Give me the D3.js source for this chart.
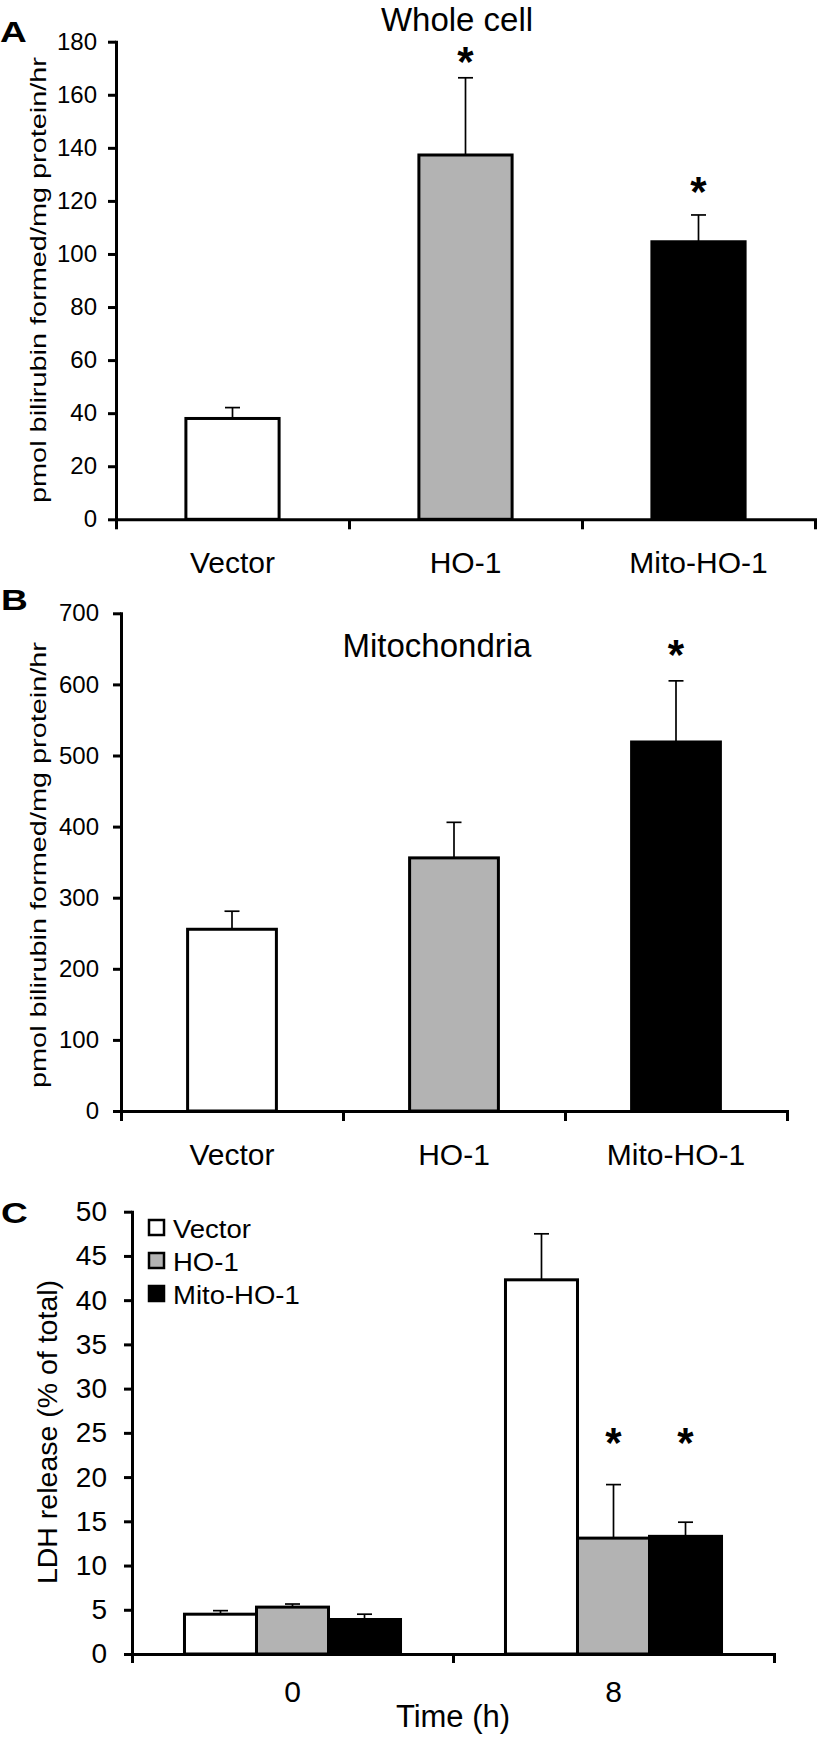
<!DOCTYPE html>
<html>
<head>
<meta charset="utf-8">
<script src="https://cdn.jsdelivr.net/npm/d3@7"></script>
<style>
  body { margin: 0; background: #fff; }
  text { font-family: 'Liberation Sans', Arial, sans-serif; fill: #000; }
</style>
</head>
<body>
<div id="chart"></div>
<script>
//Data
const groups = ['Vector', 'HO-1', 'Mito-HO-1'];

// A - whole cell
const wholeMean = [38, 137.3, 104.6];
const wholeErr = [4.1, 29.1, 10.1];
const wholeStar = [null, 175, 126];
const wholeTicks = [0, 20, 40, 60, 80, 100, 120, 140, 160, 180];

// B - mitochondria
const mitoMean = [255.6, 356, 519];
const mitoErr = [25.4, 50, 86];
const mitoStar = [null, null, 651];
const mitoTicks = [0, 100, 200, 300, 400, 500, 600, 700];

// C - LDH release
const times = ['0', '8'];
const ldhVector = [4.5, 42.3];
const ldhVectorErr = [0.4, 5.2];
const ldhHO1 = [5.3, 13.1];
const ldhHO1Err = [0.35, 6.05];
const ldhMito = [3.9, 13.3];
const ldhMitoErr = [0.6, 1.6];
const ldhHO1Star = [null, 24.7];
const ldhMitoStar = [null, 24.7];
const ldhTicks = [0, 5, 10, 15, 20, 25, 30, 35, 40, 45, 50];

//Visual
const width = 819;
const height = 1739;
const fills = ['#ffffff', '#b3b3b3', '#000000'];

const svg = d3.select('#chart')
  .append('svg')
  .attr('width', width)
  .attr('height', height);

function styleAxis(axisG, fontSize) {
  axisG.select('.domain').attr('stroke', '#000').attr('stroke-width', 3).attr('stroke-linecap', 'square');
  axisG.selectAll('.tick line').attr('stroke', '#000').attr('stroke-width', 3);
  axisG.selectAll('.tick text')
    .style('font-size', fontSize + 'px')
    .style('font-family', "'Liberation Sans', Arial, sans-serif")
    .attr('fill', '#000');
}

function errorBars(g, items) {
  // items: {cx, y0, y1}
  g.selectAll(null).data(items).enter().append('line')
    .attr('x1', d => d.cx).attr('x2', d => d.cx)
    .attr('y1', d => d.y0).attr('y2', d => d.y1)
    .attr('stroke', '#000').attr('stroke-width', 1.7);
  g.selectAll(null).data(items).enter().append('line')
    .attr('x1', d => d.cx - 7.5).attr('x2', d => d.cx + 7.5)
    .attr('y1', d => d.y1).attr('y2', d => d.y1)
    .attr('stroke', '#000').attr('stroke-width', 1.7);
}

function stars(g, items) {
  g.selectAll(null).data(items.filter(d => d.y != null)).enter().append('text')
    .text('*')
    .attr('x', d => d.cx)
    .attr('y', d => d.y + 21)
    .attr('text-anchor', 'middle')
    .style('font-size', '42px')
    .style('font-weight', 'bold');
}

function panelLetter(letter, x, y) {
  svg.append('text')
    .text(letter)
    .attr('transform', `translate(${x},${y}) scale(1.28,1)`)
    .style('font-size', '29px')
    .style('font-weight', 'bold');
}

function yLabel(txt, x, cy, size, len) {
  const t = svg.append('text')
    .text(txt)
    .attr('transform', `translate(${x},${cy}) rotate(-90)`)
    .attr('text-anchor', 'middle')
    .style('font-size', size + 'px');
  if (len) t.attr('textLength', len).attr('lengthAdjust', 'spacingAndGlyphs');
}

// Panels A and B
function drawSimplePanel(o) {
  const g = svg.append('g');
  const x = d3.scaleBand().domain(groups).range([o.left, o.right]);
  const xEdge = d3.scaleLinear().domain([0, groups.length]).range([o.left, o.right]);
  const y = d3.scaleLinear().domain([0, d3.max(o.ticks)]).range([o.bottom, o.top]);
  const barW = x.bandwidth() * 0.4;
  const cx = i => x(groups[i]) + x.bandwidth() / 2;

  g.selectAll('rect.bar')
    .data(o.mean)
    .enter()
    .append('rect')
    .attr('class', 'bar')
    .attr('x', (d, i) => cx(i) - barW / 2)
    .attr('y', d => y(d))
    .attr('width', barW)
    .attr('height', d => y(0) - y(d))
    .attr('fill', (d, i) => fills[i])
    .attr('stroke', '#000')
    .attr('stroke-width', 3);

  errorBars(g, o.mean.map((m, i) => ({ cx: cx(i), y0: y(m), y1: y(m + o.err[i]) })));
  stars(g, o.star.map((s, i) => ({ cx: cx(i), y: s == null ? null : y(s) })));

  const ya = g.append('g')
    .attr('transform', `translate(${o.left},0)`)
    .call(d3.axisLeft(y).tickValues(o.ticks).tickSize(8).tickPadding(o.tickPad).tickSizeOuter(0));
  styleAxis(ya, o.tickFont);

  const xa = g.append('g')
    .attr('transform', `translate(0,${o.bottom})`)
    .call(d3.axisBottom(xEdge).tickValues(d3.range(groups.length + 1)).tickSize(10).tickFormat('').tickSizeOuter(0));
  styleAxis(xa, o.tickFont);

  g.selectAll('text.cat')
    .data(groups)
    .enter()
    .append('text')
    .attr('class', 'cat')
    .text(d => d)
    .attr('x', d => x(d) + x.bandwidth() / 2)
    .attr('y', o.bottom + 54)
    .attr('text-anchor', 'middle')
    .style('font-size', '30px');

  svg.append('text')
    .text(o.title)
    .attr('x', o.titleX)
    .attr('y', o.titleY)
    .attr('text-anchor', 'middle')
    .style('font-size', '33px');
}

drawSimplePanel({
  left: 116, right: 815, top: 41.7, bottom: 519.3,
  mean: wholeMean, err: wholeErr, star: wholeStar, ticks: wholeTicks,
  tickPad: 11, tickFont: 24,
  title: 'Whole cell', titleX: 457, titleY: 31
});
panelLetter('A', 0, 42);
yLabel('pmol bilirubin formed/mg protein/hr', 46, 280, 22, 446);

drawSimplePanel({
  left: 121, right: 787, top: 613.3, bottom: 1111,
  mean: mitoMean, err: mitoErr, star: mitoStar, ticks: mitoTicks,
  tickPad: 14, tickFont: 24,
  title: 'Mitochondria', titleX: 437, titleY: 657
});
panelLetter('B', 1, 610);
yLabel('pmol bilirubin formed/mg protein/hr', 46, 865, 22, 446);

// Panel C
(function () {
  const left = 132, right = 774, top = 1211.7, bottom = 1654;
  const series = [
    { name: 'Vector', mean: ldhVector, err: ldhVectorErr, star: [null, null] },
    { name: 'HO-1', mean: ldhHO1, err: ldhHO1Err, star: ldhHO1Star },
    { name: 'Mito-HO-1', mean: ldhMito, err: ldhMitoErr, star: ldhMitoStar }
  ];
  const g = svg.append('g');
  const x0 = d3.scaleBand().domain(times).range([left, right]);
  const xEdge = d3.scaleLinear().domain([0, times.length]).range([left, right]);
  const groupW = x0.bandwidth() * 0.673;
  const x1 = d3.scaleBand().domain(series.map(s => s.name)).range([0, groupW]);
  const y = d3.scaleLinear().domain([0, 50]).range([bottom, top]);

  const flat = [];
  series.forEach((s, si) => {
    times.forEach((t, ti) => {
      const bx = x0(t) + (x0.bandwidth() - groupW) / 2 + x1(s.name);
      flat.push({ si, x: bx, cx: bx + x1.bandwidth() / 2, v: s.mean[ti], e: s.err[ti], star: s.star[ti] });
    });
  });

  g.selectAll('rect.bar')
    .data(flat)
    .enter()
    .append('rect')
    .attr('x', d => d.x)
    .attr('y', d => y(d.v))
    .attr('width', x1.bandwidth())
    .attr('height', d => y(0) - y(d.v))
    .attr('fill', d => fills[d.si])
    .attr('stroke', '#000')
    .attr('stroke-width', 3);

  errorBars(g, flat.map(d => ({ cx: d.cx, y0: y(d.v), y1: y(d.v + d.e) })));
  stars(g, flat.map(d => ({ cx: d.cx, y: d.star == null ? null : y(d.star) })));

  const ya = g.append('g')
    .attr('transform', `translate(${left},0)`)
    .call(d3.axisLeft(y).tickValues(ldhTicks).tickSize(8).tickPadding(17).tickSizeOuter(0));
  styleAxis(ya, 28);

  const xa = g.append('g')
    .attr('transform', `translate(0,${bottom})`)
    .call(d3.axisBottom(xEdge).tickValues(d3.range(times.length + 1)).tickSize(9).tickFormat('').tickSizeOuter(0));
  styleAxis(xa, 28);

  g.selectAll('text.cat')
    .data(times)
    .enter()
    .append('text')
    .text(d => d)
    .attr('x', d => x0(d) + x0.bandwidth() / 2)
    .attr('y', bottom + 48)
    .attr('text-anchor', 'middle')
    .style('font-size', '30px');

  svg.append('text')
    .text('Time (h)')
    .attr('x', (left + right) / 2)
    .attr('y', 1727)
    .attr('text-anchor', 'middle')
    .style('font-size', '31px');

  // legend
  const leg = svg.append('g').attr('transform', 'translate(149,1220)');
  const items = leg.selectAll('g')
    .data(series)
    .enter()
    .append('g')
    .attr('transform', (d, i) => `translate(0,${i * 33})`);
  items.append('rect')
    .attr('width', 15).attr('height', 15)
    .attr('fill', (d, i) => fills[i])
    .attr('stroke', '#000').attr('stroke-width', 2.5);
  items.append('text')
    .text(d => d.name)
    .attr('transform', 'translate(24,18) scale(1.1,1)')
    .style('font-size', '25px');
})();
panelLetter('C', 1, 1223);
yLabel('LDH release (% of total)', 57, 1432, 28.5);
</script>
</body>
</html>
